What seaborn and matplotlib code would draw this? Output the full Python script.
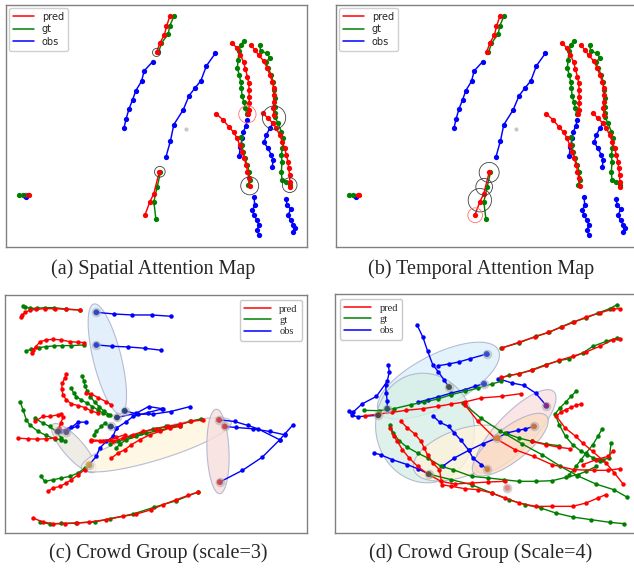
import numpy as np
import matplotlib
matplotlib.use("Agg")
import matplotlib.pyplot as plt
from matplotlib.lines import Line2D
from matplotlib.patches import Circle
import seaborn as sns

sns.set_style("white")

RED, GREEN, BLUE = "#ff0000", "#008000", "#0000ff"

# ---------------- panels (a) and (b): same scene, coords in 3x-pixel units ----------------
ab_obs = [
    [(372, 385), (379, 356), (387, 328), (398, 300), (408, 272), (425, 244), (433, 213), (458, 186)],
    [(647, 160), (620, 198), (603, 243), (585, 265), (568, 287), (550, 330), (522, 374), (512, 422), (498, 472)],
    [(718, 468), (722, 440), (727, 415), (731, 395), (738, 378), (743, 360)],
    [(778, 705), (772, 690), (777, 675), (772, 660), (763, 645), (758, 630), (765, 615), (763, 590)],
    [(818, 500), (820, 480), (815, 465), (805, 445), (793, 427), (800, 405), (810, 385), (820, 370)],
    [(880, 695), (885, 683), (880, 673), (873, 660), (865, 645), (873, 627), (863, 615), (858, 595)],
    [(75, 588), (78, 589)],
]
ab_gt = [
    [(476, 158), (485, 130), (505, 103), (510, 78), (523, 48)],
    [(482, 517), (472, 560), (462, 605), (468, 655)],
    [(741, 343), (737, 325), (732, 305), (727, 287), (725, 265), (723, 245), (718, 225), (713, 203),
     (715, 180), (718, 155), (723, 135), (733, 123)],
    [(745, 555), (750, 540), (748, 515), (743, 495), (735, 475), (730, 455), (727, 435), (725, 410)],
    [(827, 340), (825, 320), (825, 295), (823, 270), (820, 245), (815, 225), (805, 205), (798, 187),
     (810, 175), (803, 160), (783, 155), (780, 135)],
    [(870, 555), (860, 545), (847, 540), (845, 515), (847, 485), (845, 465), (848, 445), (850, 415),
     (845, 395), (835, 370), (825, 350)],
    [(70, 583), (58, 583)],
]
ab_pred = [
    [(470, 158), (480, 130), (494, 105), (500, 80), (510, 50)],
    [(478, 517), (462, 580), (450, 605), (435, 645)],
    [(745, 343), (747, 330), (749, 310), (748, 290), (748, 270), (747, 250), (743, 230), (737, 208),
     (732, 188), (722, 165), (712, 145), (697, 130)],
    [(750, 557), (748, 535), (743, 515), (740, 495), (733, 475), (727, 455), (720, 435), (712, 415),
     (702, 397), (687, 380), (670, 360), (650, 342)],
    [(823, 345), (821, 325), (822, 305), (823, 285), (822, 265), (818, 245), (810, 225), (803, 205),
     (793, 185), (778, 167), (765, 150), (753, 135)],
    [(872, 560), (870, 545), (870, 525), (867, 505), (865, 485), (860, 465), (855, 445), (848, 425),
     (840, 405), (830, 385), (820, 370), (805, 355), (790, 340)],
    [(83, 583), (88, 583)],
]
ab_dot = [(560, 388)]

# attention circles: (x, y, radius, colour)
a_circles = [(470, 158, 12, "#404040"), (480, 515, 16, "#404040"), (743, 343, 26, "#ff7070"),
             (823, 353, 35, "#404040"), (750, 557, 27, "#404040"), (870, 555, 22, "#404040"),
             (78, 586, 7, "#404040")]
b_circles = [(478, 517, 30, "#404040"), (463, 560, 25, "#404040"), (450, 600, 35, "#404040"),
             (436, 645, 22, "#ff7070")]

# ---------------- panel (c) ----------------
c_obs = [
    [(515, 94), (457, 90), (398, 90), (343, 87), (290, 82)],
    [(485, 196), (435, 190), (385, 186), (338, 184), (290, 180)],
    [(572, 365), (513, 380), (460, 388), (415, 388), (375, 378)],
    [(490, 372), (447, 365), (410, 385), (352, 398)],
    [(488, 372), (445, 383), (400, 395), (378, 412), (350, 430), (333, 425)],
    [(258, 412), (235, 412), (215, 428), (200, 442)],
    [(232, 425), (205, 432), (185, 438), (175, 440)],
    [(350, 430), (340, 455), (320, 470), (300, 490), (290, 515), (268, 540)],
    [(880, 420), (855, 448), (840, 465), (788, 517), (728, 557), (660, 592)],
    [(855, 450), (810, 440), (760, 432), (710, 428), (675, 425)],
    [(840, 465), (775, 432), (745, 422), (705, 410), (658, 405)],
]
c_gt = [
    [(240, 75), (198, 72), (162, 68), (135, 68), (113, 70), (90, 70), (75, 65), (70, 62)],
    [(253, 180), (215, 182), (188, 182), (162, 183), (140, 185), (118, 188), (95, 193), (80, 198)],
    [(330, 390), (312, 378), (298, 365), (285, 352), (272, 335), (262, 318), (256, 302), (252, 288), (248, 272)],
    [(325, 392), (310, 385), (295, 375), (278, 365), (262, 355), (245, 345), (230, 335), (222, 325), (215, 310)],
    [(330, 425), (315, 415), (305, 425), (290, 440), (282, 450)],
    [(195, 470), (185, 460), (170, 440), (150, 425), (130, 415), (105, 400)],
    [(185, 465), (165, 462), (140, 452), (115, 440), (90, 420), (80, 405), (70, 375), (62, 352)],
    [(255, 550), (235, 565), (210, 575), (185, 580), (160, 585), (135, 590), (125, 575)],
    [(605, 402), (570, 410), (540, 420), (500, 425), (460, 432), (425, 445), (395, 455), (355, 470), (330, 478)],
    [(540, 423), (510, 428), (480, 437), (440, 445), (410, 455), (380, 465), (360, 478), (350, 490)],
    [(120, 712), (150, 718), (185, 716), (230, 715), (285, 712), (330, 702), (400, 688), (462, 668),
     (530, 648), (595, 622)],
]
c_pred = [
    [(240, 75), (200, 73), (165, 71), (135, 71), (110, 73), (90, 76), (76, 82), (68, 90), (65, 97)],
    [(253, 173), (235, 172), (210, 170), (185, 165), (160, 163), (140, 165), (122, 170), (108, 185),
     (100, 195), (97, 205)],
    [(295, 385), (275, 378), (255, 368), (235, 362), (215, 357), (200, 345), (190, 330), (186, 312),
     (188, 295), (195, 280), (200, 268)],
    [(335, 360), (318, 350), (295, 338), (275, 328), (258, 323)],
    [(375, 450), (350, 458), (330, 465), (300, 468), (275, 470)],
    [(178, 430), (183, 415), (190, 398), (185, 388), (175, 390), (150, 395), (130, 395), (105, 410)],
    [(165, 460), (140, 462), (112, 463), (85, 462), (55, 460)],
    [(255, 555), (235, 570), (215, 585), (200, 595), (180, 605), (160, 610), (145, 620)],
    [(610, 405), (575, 410), (540, 418), (505, 425), (470, 432), (430, 440), (400, 450), (370, 460),
     (340, 470), (310, 468), (275, 465)],
    [(540, 425), (510, 430), (480, 440), (450, 450), (420, 465), (395, 480), (375, 495), (355, 505), (335, 520)],
    [(100, 700), (130, 712), (160, 717), (195, 717), (232, 715), (268, 712), (320, 705), (370, 695),
     (410, 688), (455, 675), (490, 660), (530, 645), (565, 632), (595, 622)],
]
# highlighted current positions: (x, y, colour)
c_marks = [(290, 82, "#2040d0"), (290, 180, "#2040d0"), (375, 378, "#203a70"), (352, 398, "#203a70"),
           (333, 425, "#203a70"), (175, 440, "#5a4a70"), (200, 442, "#6a5a70"), (268, 540, "#d8a030"),
           (658, 405, "#d84040"), (675, 425, "#d84040"), (660, 592, "#d84040")]
# group ellipses: centre x, centre y, major dir x, major dir y, semi-major, semi-minor, fill
c_ell = [(323, 222, 80, 325, 170, 42, "#dcedfa"),
         (222, 490, 110, 125, 95, 30, "#ebe8df"),
         (470, 480, 440, -136, 235, 45, "#fdf5de"),
         (655, 500, 10, 250, 127, 33, "#f8dede")]

# ---------------- panel (d) ----------------
d_obs = [
    [(298, 120), (316, 158), (330, 200), (345, 240), (362, 262), (378, 285), (393, 307)],
    [(362, 243), (392, 238), (422, 232), (456, 222), (505, 208)],
    [(213, 240), (216, 262), (210, 290), (178, 335), (135, 358), (108, 383), (97, 378), (105, 392),
     (122, 396), (183, 392)],
    [(205, 300), (207, 325), (210, 350), (210, 372)],
    [(345, 393), (366, 413), (392, 425), (409, 445), (429, 467), (452, 497), (464, 520), (489, 540), (507, 553)],
    [(374, 545), (409, 520), (452, 497), (494, 477), (537, 460)],
    [(537, 460), (564, 445), (599, 437), (619, 433), (645, 425)],
    [(540, 282), (580, 295), (615, 302), (650, 325), (682, 363)],
    [(170, 505), (190, 510), (225, 525), (270, 540), (300, 552), (333, 568)],
    [(300, 353), (330, 345), (360, 337), (400, 325), (440, 315), (470, 305), (497, 297)],
]
d_gt = [
    [(548, 190), (600, 175), (650, 155), (690, 143), (725, 127), (760, 112), (800, 100), (835, 85),
     (870, 72), (892, 60)],
    [(548, 280), (570, 272), (600, 268), (640, 255), (680, 240), (720, 228), (750, 222), (790, 205),
     (820, 185), (860, 170), (892, 160)],
    [(140, 377), (185, 378), (230, 372), (280, 360), (320, 352), (360, 343), (400, 330), (440, 320),
     (480, 310), (520, 298), (548, 290)],
    [(435, 355), (487, 400), (544, 438), (609, 477), (669, 510), (724, 545), (774, 573), (829, 598),
     (882, 615), (921, 637)],
    [(218, 420), (228, 445), (245, 468), (268, 487), (300, 505), (330, 520), (370, 545), (405, 555),
     (460, 575), (510, 580), (555, 585), (600, 590), (650, 590), (700, 588), (740, 578), (775, 570),
     (800, 560), (830, 545)],
    [(340, 570), (400, 585), (460, 600), (520, 625), (570, 645), (620, 660), (665, 670), (710, 685),
     (760, 697), (815, 705), (870, 713), (912, 717)],
    [(770, 320), (755, 335), (740, 352), (722, 370), (708, 388), (720, 420), (739, 455), (760, 480),
     (785, 500), (804, 510), (840, 530)],
    [(848, 432), (835, 455), (820, 480), (800, 505), (785, 525), (770, 545), (750, 570)],
    [(874, 475), (869, 520), (850, 525), (820, 520)],
    [(560, 445), (600, 460), (640, 470), (680, 478), (720, 483)],
]
d_pred = [
    [(550, 190), (600, 173), (648, 157), (688, 143), (727, 127), (765, 112), (800, 97), (840, 85),
     (880, 73), (900, 72)],
    [(548, 278), (600, 267), (640, 257), (680, 242), (720, 227), (760, 215), (800, 202), (840, 185),
     (880, 165), (900, 162)],
    [(145, 393), (185, 388), (225, 383), (265, 377), (315, 372), (360, 365), (400, 358), (440, 352),
     (489, 340), (549, 335), (606, 327)],
    [(440, 360), (479, 410), (529, 460), (589, 495), (644, 515), (699, 540), (764, 555), (824, 557),
     (864, 557), (901, 552)],
    [(250, 410), (270, 430), (292, 448), (310, 470), (320, 490), (330, 512), (345, 535), (365, 555),
     (372, 600), (400, 605), (440, 612), (480, 615), (520, 625), (560, 640), (600, 655), (650, 665),
     (700, 665), (760, 665), (800, 655), (835, 640), (858, 630)],
    [(218, 430), (230, 455), (240, 470), (255, 495), (275, 520), (300, 545), (330, 568), (370, 590),
     (410, 598), (460, 595), (510, 592), (560, 590)],
    [(785, 358), (770, 362), (755, 368), (740, 375), (725, 382), (712, 395), (738, 430), (769, 455),
     (790, 475), (819, 500), (859, 535), (884, 565), (909, 597)],
    [(640, 470), (680, 480), (720, 488), (752, 492)],
    [(790, 540), (830, 525), (865, 515), (880, 500)],
]
d_marks = [(393, 307, "#404838"), (497, 297, "#2848d8"), (505, 208, "#2848d8"), (210, 372, "#205060"),
           (183, 392, "#503828"), (333, 568, "#505030"), (537, 460, "#e08020"), (645, 425, "#d87030"),
           (507, 553, "#e08020"), (682, 363, "#802080"), (566, 610, "#f07878")]
d_ell = [(362, 288, 355, -185, 200, 78, "#dcf0fa"),
         (322, 430, 30, 160, 165, 146, "#d6efe6"),
         (430, 505, 270, -100, 150, 70, "#fdf3da"),
         (590, 440, 220, -230, 165, 55, "#f9e0e0"),
         (575, 480, 190, -150, 138, 50, "#fbdcc4")]


def ellipse_outline(cx, cy, dx, dy, a, b):
    t = np.linspace(0, 2 * np.pi, 120)
    n = np.hypot(dx, dy)
    ux, uy = dx / n, dy / n
    return (cx + a * np.cos(t) * ux - b * np.sin(t) * uy,
            cy + a * np.cos(t) * uy + b * np.sin(t) * ux)


def draw_tracks(ax, tracks, color, ms, lw):
    for tr in tracks:
        xs, ys = zip(*tr)
        sns.lineplot(x=list(xs), y=list(ys), sort=False, estimator=None, color=color, marker="o",
                     markersize=ms, markeredgewidth=0, linewidth=lw, ax=ax, legend=False, zorder=3)


def setup(ax, xlim, ylim):
    ax.set_xlim(*xlim)
    ax.set_ylim(*ylim)
    ax.set_xticks([])
    ax.set_yticks([])
    ax.set_xlabel("")
    ax.set_ylabel("")
    for s in ax.spines.values():
        s.set_edgecolor("#808080")
        s.set_linewidth(1.0)


def legend_handles():
    return [Line2D([], [], color=RED, lw=1.1, label="pred"),
            Line2D([], [], color=GREEN, lw=1.1, label="gt"),
            Line2D([], [], color=BLUE, lw=1.1, label="obs")]


fig = plt.figure(figsize=(6.34, 5.72), dpi=100)
W, H = 634, 572
ax_a = fig.add_axes([6 / W, 1 - 247 / H, 301 / W, 242 / H])
ax_b = fig.add_axes([336 / W, 1 - 247 / H, 301 / W, 242 / H])
ax_c = fig.add_axes([5 / W, 1 - 533 / H, 302 / W, 238 / H])
ax_d = fig.add_axes([335 / W, 1 - 533 / H, 302 / W, 239 / H])

# (a), (b)
for ax, circles in [(ax_a, a_circles), (ax_b, b_circles)]:
    draw_tracks(ax, ab_obs, BLUE, 3.8, 1.05)
    draw_tracks(ax, ab_gt, GREEN, 3.8, 1.05)
    draw_tracks(ax, ab_pred, RED, 3.8, 1.05)
    dx, dy = zip(*ab_dot)
    ax.scatter(dx, dy, s=4, color="#c8c8c8", zorder=2)
    for x, y, r, col in circles:
        ax.add_patch(Circle((x, y), r, fill=False, edgecolor=col, lw=0.6, zorder=4))
    setup(ax, (18, 922), (740, 16))
    ax.legend(handles=legend_handles(), loc="upper left", fontsize=7, frameon=True,
              borderaxespad=0.3, handlelength=2.2, labelspacing=0.25, borderpad=0.4,
              framealpha=1, edgecolor="#d0d0d0", fancybox=True)

# (c), (d)
for ax, ells, obs, gt, pred, marks, lim, loc in [
        (ax_c, c_ell, c_obs, c_gt, c_pred, c_marks, ((16, 922), (745, 30)), "upper right"),
        (ax_d, d_ell, d_obs, d_gt, d_pred, d_marks, ((55, 951), (745, 28)), "upper left")]:
    for cx, cy, ddx, ddy, a, b, fc in ells:
        ex, ey = ellipse_outline(cx, cy, ddx, ddy, a, b)
        ax.fill(ex, ey, facecolor=fc, alpha=0.8, edgecolor="#a8acc8", lw=0.8, zorder=1)
    draw_tracks(ax, obs, BLUE, 3.2, 1.0)
    draw_tracks(ax, gt, GREEN, 3.2, 1.0)
    draw_tracks(ax, pred, RED, 3.2, 1.0)
    mx, my, mc = zip(*marks)
    ax.scatter(mx, my, s=48, color="#b0b0b0", alpha=0.6, linewidths=0, zorder=5)
    ax.scatter(mx, my, s=18, c=list(mc), alpha=0.85, linewidths=0, zorder=6)
    setup(ax, *lim)
    ax.legend(handles=legend_handles(), loc=loc, prop={"family": "Liberation Serif", "size": 7.5},
              frameon=True, borderaxespad=0.5, handlelength=2.6, labelspacing=0.2, borderpad=0.4,
              framealpha=1, edgecolor="#c8c8c8", fancybox=True)

cap = {"family": "Liberation Serif", "size": 14.5}
fig.text(153 / W, 1 - 269 / H, "(a) Spatial Attention Map", ha="center", va="center", **cap)
fig.text(481 / W, 1 - 269 / H, "(b) Temporal Attention Map", ha="center", va="center", **cap)
fig.text(158 / W, 1 - 553 / H, "(c) Crowd Group (scale=3)", ha="center", va="center", **cap)
fig.text(481 / W, 1 - 553 / H, "(d) Crowd Group (Scale=4)", ha="center", va="center", **cap)

fig.savefig("out.png", dpi=100)
